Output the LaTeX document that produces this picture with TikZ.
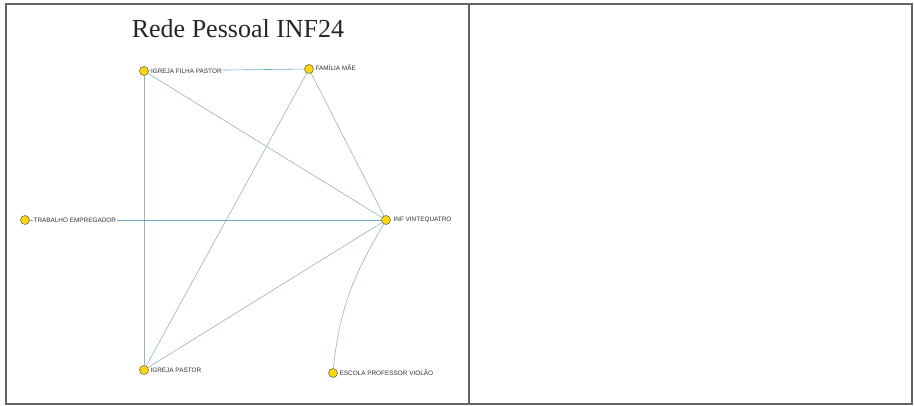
\documentclass[tikz,border=0pt]{standalone}
\usepackage{fontspec}
\setmainfont{Liberation Serif}
\newfontfamily\lblfont{Liberation Sans}
\usetikzlibrary{backgrounds}
\definecolor{vfill}{RGB}{255,214,10}
\definecolor{vdraw}{RGB}{110,110,90}
\definecolor{edgeg}{RGB}{150,180,185}
\definecolor{edgeb}{RGB}{105,170,195}
\definecolor{framec}{RGB}{100,100,100}
\definecolor{lblc}{RGB}{50,50,50}
\begin{document}
\begin{tikzpicture}[x=1pt,y=-1pt,
  vert/.style={circle,fill=vfill,draw=vdraw,line width=0.6pt,minimum size=9pt,inner sep=0pt},
  lbl/.style={anchor=west,fill=white,inner sep=0.4pt,text=lblc,font=\lblfont\fontsize{6.4}{7}\selectfont},
  edgeline/.style={draw=edgeg,line width=0.6pt},
  edgeblue/.style={draw=edgeb,line width=0.6pt},
  framebox/.style={draw=framec,line width=1.4pt}]
\useasboundingbox (0,0) rectangle (914,406);
\draw[framebox] (6,4) rectangle (912,404);
\draw[framebox] (469,4) -- (469,404);
\node[font=\fontsize{26}{30}\selectfont,text=black!85] (title) at (238,29) {Rede Pessoal INF24};
% vertices
\node[vert] (ifp) at (144,71) {};
\node[vert] (fam) at (309,69) {};
\node[vert] (trab) at (25,220) {};
\node[vert] (inf) at (386,220) {};
\node[vert] (ip) at (144,370) {};
\node[vert] (esc) at (333,373) {};
% labels
\node[lbl] (ifpL) at (150.5,71) {IGREJA FILHA PASTOR};
\node[lbl] (famL) at (315,68) {FAMÍLIA MÃE};
\node[lbl] (trabL) at (33,220) {TRABALHO EMPREGADOR};
\node[lbl] (infL) at (393,220) {INF VINTEQUATRO};
\node[lbl] (ipL) at (150,370) {IGREJA PASTOR};
\node[lbl] (escL) at (339,373) {ESCOLA PROFESSOR VIOLÃO};
\begin{pgfonlayer}{background}
\draw[edgeblue] (ifp) -- (fam);
\draw[edgeline] (ifp) -- (inf);
\draw[edgeline] (ifp) -- (ip);
\draw[edgeline] (fam) -- (inf);
\draw[edgeline] (fam) -- (ip);
\draw[edgeblue] (trab) -- (inf);
\draw[edgeline] (ip) -- (inf);
\draw[edgeline] (inf) .. controls (360,265) and (340,300) .. (esc);
\end{pgfonlayer}
\end{tikzpicture}
\end{document}
